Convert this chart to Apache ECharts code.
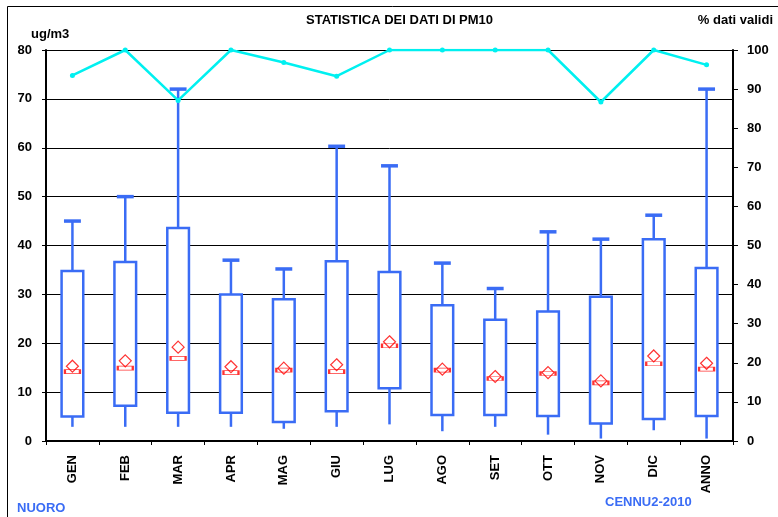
<!DOCTYPE html>
<html><head><meta charset="utf-8">
<script src="https://cdn.jsdelivr.net/npm/echarts@6/dist/echarts.min.js"></script>
<style>html,body{margin:0;padding:0;background:#fff}#c{width:778px;height:517px}</style>
</head><body><div id="c"></div>
<script>
const categories = ['GEN','FEB','MAR','APR','MAG','GIU','LUG','AGO','SET','OTT','NOV','DIC','ANNO'];
const whiskerLow = [2.9, 2.9, 2.9, 2.9, 2.5, 2.9, 3.4, 2.0, 2.9, 1.3, 0.5, 2.2, 0.5];
const boxLow     = [5.0, 7.2, 5.8, 5.8, 3.9, 6.1, 10.8, 5.3, 5.3, 5.1, 3.6, 4.5, 5.1];
const boxHigh    = [34.8, 36.6, 43.6, 30.0, 29.0, 36.8, 34.6, 27.8, 24.8, 26.5, 29.5, 41.3, 35.4];
const whiskerHigh= [45.0, 50.0, 72.0, 37.0, 35.2, 60.3, 56.3, 36.4, 31.2, 42.8, 41.3, 46.2, 72.0];
const medians    = [14.2, 14.9, 16.9, 14.0, 14.5, 14.2, 19.5, 14.5, 12.8, 13.8, 11.9, 15.8, 14.7];
const means      = [15.3, 16.4, 19.2, 15.2, 14.9, 15.6, 20.3, 14.7, 13.2, 14.0, 12.3, 17.4, 15.9];
const validPct   = [93.5, 100, 87.1, 100, 96.8, 93.3, 100, 100, 100, 100, 86.7, 100, 96.2];
const leftTicks  = [0,10,20,30,40,50,60,70,80];
const rightTicks = [0,10,20,30,40,50,60,70,80,90,100];

const BLUE = '#3a6cf5';
const boxData = categories.map((c,i)=>[i, whiskerLow[i], boxLow[i], boxHigh[i], whiskerHigh[i]]);

const chart = echarts.init(document.getElementById('c'));
const font = 'Arial, "Liberation Sans", sans-serif';
chart.setOption({
  animation:false,
  textStyle:{fontFamily:font},
  grid:{left:46,right:45,top:50,bottom:76},
  graphic:[
    {type:'line',shape:{x1:7.5,y1:6.5,x2:778,y2:6.5},style:{stroke:'#000',lineWidth:1}},
    {type:'line',shape:{x1:7.5,y1:6.5,x2:7.5,y2:517},style:{stroke:'#000',lineWidth:1}},
    {type:'text',left:306,top:14,style:{text:'STATISTICA DEI DATI DI PM10',font:'bold 13px '+font,fill:'#000'}},
    {type:'text',left:31,top:28,style:{text:'ug/m3',font:'bold 13px '+font,fill:'#000'}},
    {type:'text',right:5,top:14,style:{text:'% dati validi',font:'bold 13px '+font,fill:'#000'}},
    {type:'text',left:17,top:502,style:{text:'NUORO',font:'bold 13px '+font,fill:BLUE}},
    {type:'text',left:605,top:496,style:{text:'CENNU2-2010',font:'bold 13px '+font,fill:BLUE}}
  ],
  xAxis:{type:'category',data:categories,boundaryGap:true,
    axisLine:{lineStyle:{color:'#000',width:2}},
    axisTick:{show:true,alignWithLabel:false,length:4,lineStyle:{color:'#000'}},
    axisLabel:{rotate:90,fontWeight:'bold',fontSize:13,color:'#000',margin:14,fontFamily:font},
    splitLine:{show:false}},
  yAxis:[
    {type:'value',min:0,max:80,interval:10,
      axisLine:{show:true,lineStyle:{color:'#000',width:2}},
      axisTick:{show:true,length:4,lineStyle:{color:'#000'}},
      axisLabel:{fontWeight:'bold',fontSize:13,color:'#000',margin:14,fontFamily:font,
        formatter:v=>leftTicks.includes(v)?String(v):''},
      splitLine:{show:true,lineStyle:{color:'#000',width:1}}},
    {type:'value',min:0,max:100,interval:10,position:'right',
      axisLine:{show:true,lineStyle:{color:'#000',width:2}},
      axisTick:{show:true,length:5,lineStyle:{color:'#000'}},
      axisLabel:{fontWeight:'bold',fontSize:13,color:'#000',margin:14,fontFamily:font,
        formatter:v=>rightTicks.includes(v)?String(v):''},
      splitLine:{show:false}}
  ],
  series:[
    {type:'custom',yAxisIndex:0,data:boxData,z:3,
      renderItem:function(params,api){
        const i=api.value(0);
        const pWL=api.coord([i,api.value(1)]);
        const pBL=api.coord([i,api.value(2)]);
        const pBH=api.coord([i,api.value(3)]);
        const pWH=api.coord([i,api.value(4)]);
        const bw=api.size([1,0])[0]*0.41;
        const cw=api.size([1,0])[0]*0.32;
        const x=pBL[0];
        const st={stroke:BLUE,lineWidth:2.5,fill:null};
        return {type:'group',children:[
          {type:'line',shape:{x1:x,y1:pWL[1],x2:x,y2:pBL[1]},style:st},
          {type:'line',shape:{x1:x,y1:pBH[1],x2:x,y2:pWH[1]},style:st},
          {type:'line',shape:{x1:x-cw/2,y1:pWH[1],x2:x+cw/2,y2:pWH[1]},style:{stroke:BLUE,lineWidth:3.5}},
          {type:'rect',shape:{x:x-bw/2,y:pBH[1],width:bw,height:pBL[1]-pBH[1]},style:{stroke:BLUE,lineWidth:2.5,fill:'#fff'}}
        ]};
      }},
    {type:'scatter',yAxisIndex:0,z:4,data:medians,symbol:'rect',symbolSize:[15,4],
      itemStyle:{color:'#fff',borderColor:'#ff0000',borderWidth:1.2}},
    {type:'scatter',yAxisIndex:0,z:5,data:means,symbol:'diamond',symbolSize:[12,12],
      itemStyle:{color:'rgba(0,0,0,0)',borderColor:'#ff0000',borderWidth:1.2}},
    {type:'line',yAxisIndex:1,z:6,data:validPct,symbol:'circle',symbolSize:5,
      lineStyle:{color:'#00f0f0',width:2.5},itemStyle:{color:'#00f0f0'}}
  ]
});
</script></body></html>
